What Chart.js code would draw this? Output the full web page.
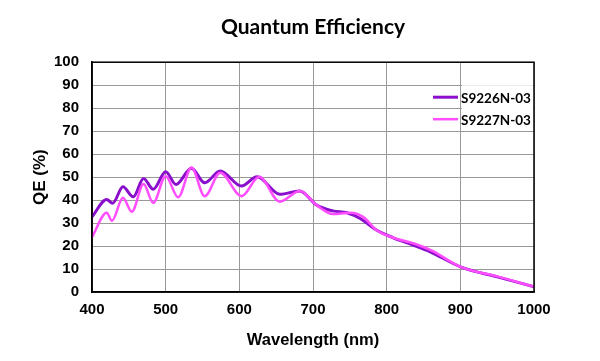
<!DOCTYPE html>
<html>
<head>
<meta charset="utf-8">
<script src="https://cdn.jsdelivr.net/npm/chart.js@4"></script>
<style>
  html, body { margin: 0; padding: 0; background: #fff; }
  #wrap { width: 600px; height: 361px; }
</style>
</head>
<body>
<div id="wrap"><canvas id="myChart" width="600" height="361"></canvas></div>
<script>
// wavelength (nm) / QE (%)
const wlA = [400, 420, 428, 442, 456, 470, 483, 500, 514, 535, 553, 574, 603, 624, 655, 682, 705, 727, 746, 764, 786, 809, 835, 859, 902, 950, 1000];
const qeA = [32.7, 40.3, 38.6, 45.8, 41.4, 49.4, 44.7, 52.3, 46.8, 53.8, 47.5, 52.7, 46.1, 50.1, 42.5, 44.0, 37.8, 35.3, 34.5, 32.0, 27.0, 23.6, 20.5, 17.5, 10.7, 6.6, 2.3];

const wlB = [400, 420, 427, 442, 454, 470, 483, 500, 517, 535, 553, 574, 603, 627, 655, 682, 705, 727, 750, 768, 786, 809, 838, 860, 902, 950, 1000];
const qeB = [23.9, 34.5, 31.0, 41.0, 34.9, 47.0, 38.8, 50.4, 41.2, 54.2, 41.7, 51.9, 41.7, 50.1, 39.3, 44.0, 37.8, 33.9, 34.5, 32.7, 27.0, 23.6, 21.0, 18.2, 10.7, 6.8, 2.3];

const seriesNames = ['S9226N-03', 'S9227N-03'];
const seriesColors = ['#8a0fcc', '#ff4dff'];
const xTicks = [400, 500, 600, 700, 800, 900, 1000];

function pts(xs, ys) {
    return xs.map((x, i) => ({ x: x, y: ys[i] }));
}

// black frame round the plot + legend box in the upper right
const framePlugin = {
    id: 'frame',
    afterDatasetsDraw(chart) {
        const ctx = chart.ctx;
        const a = chart.chartArea;
        ctx.save();
        // legend
        const top = a.top + 35;
        ctx.fillStyle = '#fff';
        ctx.fillRect(a.right - 72, top - 12, 71, 45);
        ctx.font = 'bold 13.5px Lato, "Liberation Sans", sans-serif';
        ctx.textBaseline = 'middle';
        chart.data.datasets.forEach((ds, i) => {
            const y = top + i * 22;
            ctx.strokeStyle = ds.borderColor;
            ctx.lineWidth = ds.borderWidth;
            ctx.beginPath();
            ctx.moveTo(a.right - 101, y);
            ctx.lineTo(a.right - 76, y);
            ctx.stroke();
            ctx.fillStyle = '#000';
            ctx.fillText(ds.label, a.right - 73, y + 1);
        });
        ctx.strokeStyle = '#000';
        ctx.lineWidth = 1.5;
        ctx.strokeRect(a.left, a.top, a.right - a.left, a.bottom - a.top);
        ctx.restore();
    }
};

const tickFont = { family: '"Liberation Sans", Arial, sans-serif', size: 15, weight: 'bold' };

var ctx = document.getElementById('myChart').getContext('2d');
var myChart = new Chart(ctx, {
    type: 'line',
    data: {
        datasets: [{
            label: seriesNames[0],
            data: pts(wlA, qeA),
            borderColor: seriesColors[0],
            borderWidth: 3,
            pointRadius: 0,
            cubicInterpolationMode: 'monotone',
            order: 1
        }, {
            label: seriesNames[1],
            data: pts(wlB, qeB),
            borderColor: seriesColors[1],
            borderWidth: 2.5,
            pointRadius: 0,
            cubicInterpolationMode: 'monotone',
            order: 0
        }]
    },
    options: {
        responsive: false,
        animation: false,
        layout: { padding: { left: 0, right: 66, top: 0, bottom: 0 } },
        plugins: {
            legend: { display: false },
            tooltip: { enabled: false },
            title: {
                display: true,
                fullSize: false,
                text: 'Quantum Efficiency',
                color: '#000',
                font: { family: 'Lato, "Liberation Sans", sans-serif', size: 21, weight: 'bold' },
                padding: { top: 15, bottom: 22 }
            }
        },
        scales: {
            x: {
                type: 'linear',
                min: 400,
                max: 1000,
                afterBuildTicks: s => { s.ticks = xTicks.map(v => ({ value: v })); },
                afterFit: s => { s.height = 69; },
                ticks: { color: '#000', font: tickFont, padding: 9, maxRotation: 0, callback: v => String(v) },
                grid: { color: '#999', lineWidth: 1, drawTicks: false },
                border: { color: '#000', width: 1.5 },
                title: {
                    display: true,
                    text: 'Wavelength (nm)',
                    color: '#000',
                    font: { family: '"Liberation Sans", Arial, sans-serif', size: 16.5, weight: 'bold' },
                    padding: { top: 4, bottom: 11 }
                }
            },
            y: {
                min: 0,
                max: 100,
                afterFit: s => { s.width = 92; },
                ticks: { stepSize: 10, color: '#000', font: tickFont, padding: 13 },
                grid: { color: '#999', lineWidth: 1, drawTicks: false },
                border: { color: '#000', width: 1.5 },
                title: {
                    display: true,
                    text: 'QE (%)',
                    color: '#000',
                    font: { family: '"Liberation Sans", Arial, sans-serif', size: 17, weight: 'bold' },
                    padding: { top: 30, bottom: 0 }
                }
            }
        }
    },
    plugins: [framePlugin]
});
</script>
</body>
</html>
